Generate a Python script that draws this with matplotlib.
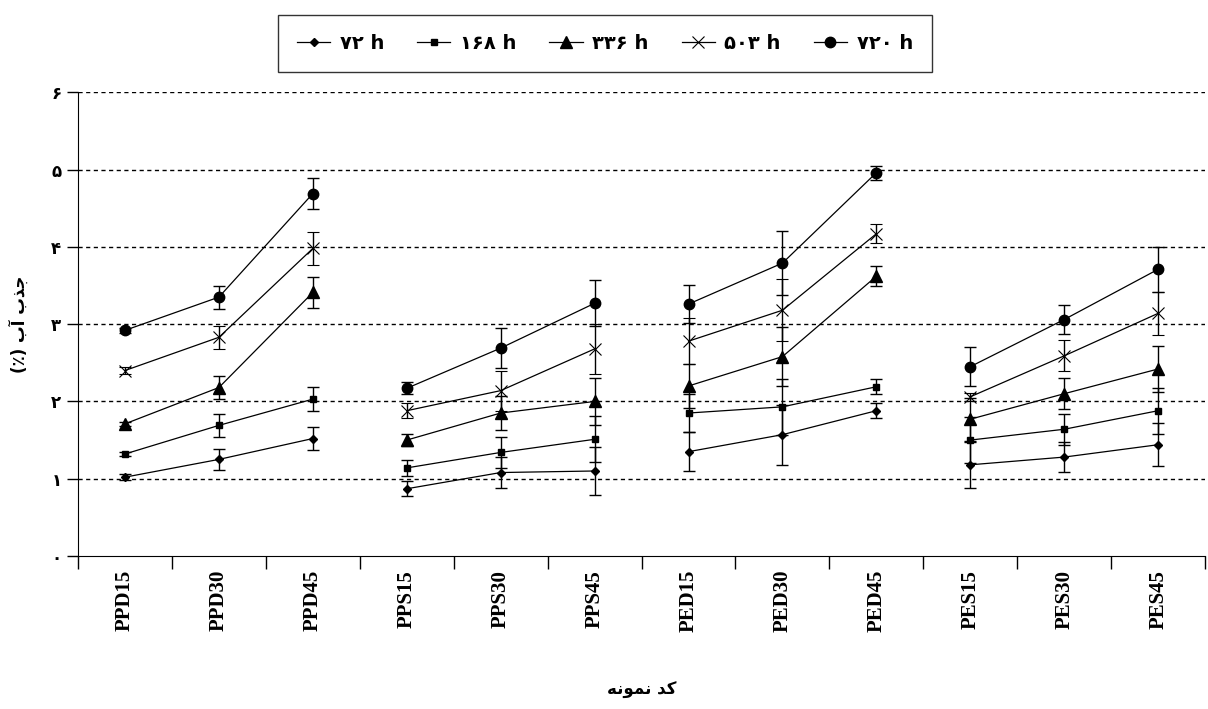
import numpy as np
import matplotlib
matplotlib.use("Agg")
import matplotlib.pyplot as plt
from matplotlib.lines import Line2D

### Data

categories = ["PPD15", "PPD30", "PPD45", "PPS15", "PPS30", "PPS45",
              "PED15", "PED30", "PED45", "PES15", "PES30", "PES45"]

h72 = [1.02, 1.25, 1.52, 0.87, 1.08, 1.10, 1.35, 1.57, 1.88, 1.18, 1.28, 1.44]
h168 = [1.32, 1.69, 2.03, 1.14, 1.34, 1.51, 1.85, 1.93, 2.19, 1.50, 1.64, 1.88]
h336 = [1.71, 2.18, 3.41, 1.50, 1.85, 2.00, 2.20, 2.58, 3.62, 1.77, 2.10, 2.42]
h503 = [2.40, 2.83, 3.98, 1.88, 2.14, 2.68, 2.78, 3.18, 4.17, 2.06, 2.59, 3.14]
h720 = [2.92, 3.35, 4.69, 2.17, 2.69, 3.27, 3.26, 3.79, 4.96, 2.45, 3.06, 3.71]

h72_err = [0.04, 0.14, 0.15, 0.10, 0.20, 0.31, 0.25, 0.39, 0.10, 0.30, 0.19, 0.28]
h168_err = [0.03, 0.15, 0.16, 0.10, 0.20, 0.30, 0.25, 0.36, 0.10, 0.30, 0.20, 0.30]
h336_err = [0.03, 0.15, 0.20, 0.08, 0.22, 0.30, 0.28, 0.38, 0.13, 0.28, 0.20, 0.30]
h503_err = [0.04, 0.15, 0.21, 0.10, 0.26, 0.32, 0.30, 0.40, 0.12, 0.05, 0.20, 0.28]
h720_err = [0.03, 0.15, 0.20, 0.08, 0.26, 0.30, 0.25, 0.41, 0.09, 0.25, 0.19, 0.29]

legend_labels = ["۷۲ h", "۱۶۸ h", "۳۳۶ h", "۵۰۳ h", "۷۲۰ h"]
ytick_labels = ["۰", "۱", "۲", "۳", "۴", "۵", "۶"]

# Persian text written in visual order with presentation forms
ylabel_text = "(٪) ﺏﺁ ﺏﺬﺟ"
xlabel_text = "ﻪﻧﻮﻤﻧ ﺪﮐ"

series = [
    (h72, h72_err, "D", 4.0, 1.0),
    (h168, h168_err, "s", 4.5, 1.0),
    (h336, h336_err, "^", 8.5, 1.0),
    (h503, h503_err, "x", 8.0, 0.8),
    (h720, h720_err, "o", 7.5, 1.0),
]

### Figure

fig = plt.figure(figsize=(12.08, 7.09), dpi=100)
ax = fig.add_axes([0.0646, 0.2158, 0.933, 0.654])

x = np.arange(len(categories))

### Plot each group of three samples separately so lines do not join groups

for vals, errs, mk, ms, mew in series:
    for g in range(4):
        idx = slice(g * 3, g * 3 + 3)
        ax.errorbar(x[idx], vals[idx], yerr=errs[idx], color="black",
                    ecolor="black", elinewidth=1.0, capsize=4, capthick=1.0,
                    linewidth=0.9, marker=mk, markersize=ms,
                    markeredgewidth=mew, markerfacecolor="black",
                    markeredgecolor="black")

### Axes styling

ax.set_xlim(-0.5, len(categories) - 0.5)
ax.set_ylim(0, 6)
ax.set_yticks(range(7))
ax.set_yticklabels(ytick_labels, family="DejaVu Sans", fontsize=12,
                   fontweight="bold")
for yv in range(1, 7):
    ax.axhline(yv, color="black", linestyle=(0, (3, 2.5)), linewidth=1.0,
               zorder=0)

ax.set_xticks(x)
ax.set_xticklabels(categories, rotation=90, family="Liberation Serif",
                   fontsize=15, fontweight="bold")
ax.set_xticks(np.arange(-0.5, len(categories), 1), minor=True)
ax.tick_params(axis="x", which="major", length=0, pad=10)
ax.tick_params(axis="x", which="minor", length=9, width=1, direction="out")
ax.tick_params(axis="y", length=8, width=1, direction="out", pad=4)

ax.spines["top"].set_visible(False)
ax.spines["right"].set_visible(False)

ax.set_ylabel(ylabel_text, family="DejaVu Sans", fontsize=12,
              fontweight="bold", labelpad=16)
fig.text(0.531, 0.027, xlabel_text, family="DejaVu Sans", fontsize=12,
         fontweight="bold", ha="center", va="center")

### Legend

handles = [Line2D([0], [0], color="black", linewidth=0.9, marker=mk,
                  markersize=ms, markeredgewidth=mew,
                  markerfacecolor="black", markeredgecolor="black")
           for _, _, mk, ms, mew in series]
leg = fig.legend(handles, legend_labels, loc="center",
                 bbox_to_anchor=(0.5008, 0.9386), ncol=5, frameon=True,
                 fancybox=False, edgecolor="black", handlelength=1.7,
                 handletextpad=0.5, columnspacing=1.7, borderpad=1.0,
                 borderaxespad=0,
                 prop={"family": "DejaVu Sans", "size": 14, "weight": "bold"})
leg.get_frame().set_linewidth(1.0)

fig.savefig("out.png", dpi=100)
